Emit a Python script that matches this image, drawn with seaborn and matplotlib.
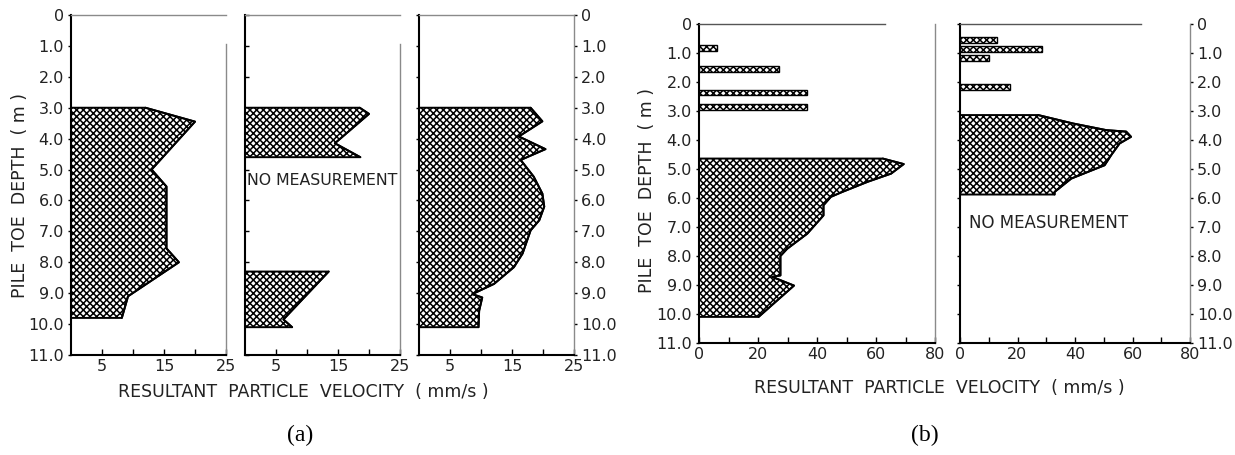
import matplotlib
matplotlib.use("Agg")
import matplotlib.pyplot as plt
import seaborn as sns
import numpy as np

# ---------------- data ----------------
depth_ticks = [0, 1, 2, 3, 4, 5, 6, 7, 8, 9, 10, 11]
depth_labels = ["0", "1.0", "2.0", "3.0", "4.0", "5.0", "6.0", "7.0", "8.0", "9.0", "10.0", "11.0"]

# panel (a) - three profiles, velocity (mm/s) vs pile toe depth (m)
a1_depth = [3.0, 3.45, 5.0, 5.55, 7.55, 8.0, 9.1, 9.8]
a1_vel = [12.0, 20.0, 13.0, 15.4, 15.4, 17.4, 9.2, 8.2]

a2_upper_depth = [3.0, 3.2, 4.15, 4.6]
a2_upper_vel = [18.5, 20.0, 14.5, 18.6]
a2_lower_depth = [8.3, 9.85, 10.1]
a2_lower_vel = [13.5, 6.2, 7.6]

a3_depth = [3.0, 3.44, 3.93, 4.34, 4.69, 5.23, 5.78, 6.2, 6.64, 6.97, 7.72, 8.16, 8.7, 9.03, 9.14, 9.57, 10.1]
a3_vel = [18.0, 19.9, 16.1, 20.4, 16.4, 18.5, 19.9, 20.2, 19.4, 18.0, 16.7, 15.3, 12.1, 8.6, 10.2, 9.7, 9.6]

# panel (b)
b1_bar_depth = [0.82, 1.56, 2.36, 2.85]
b1_bar_vel = [6.2, 27.1, 36.5, 36.5]
b1_depth = [4.64, 4.83, 5.16, 5.44, 5.79, 5.96, 6.25, 6.6, 7.23, 7.75, 8.0, 8.67, 8.72, 9.02, 10.1]
b1_vel = [62.3, 69.4, 65.1, 57.2, 48.6, 44.7, 42.2, 42.2, 36.7, 29.9, 27.6, 27.6, 24.8, 32.2, 20.2]

b2_bar_depth = [0.55, 0.85, 1.16, 2.16]
b2_bar_vel = [12.9, 28.6, 10.2, 17.3]
b2_depth = [3.14, 3.43, 3.66, 3.71, 3.89, 4.12, 4.52, 4.87, 5.33, 5.79, 5.88]
b2_vel = [27.2, 39.3, 50.9, 57.8, 59.5, 55.5, 52.6, 50.3, 38.7, 32.9, 32.9]

a_xticks = [5, 10, 15, 20, 25]
a_xlabels = ["5", "", "15", "", "25"]
b_xticks = [0, 10, 20, 30, 40, 50, 60, 70, 80]
b_xlabels = ["0", "", "20", "", "40", "", "60", "", "80"]

YLABEL = "PILE  TOE  DEPTH  ( m )"
XLABEL = "RESULTANT  PARTICLE  VELOCITY  ( mm/s )"
NOMEAS = "NO MEASUREMENT"

# ---------------- style ----------------
sns.set_theme(style="white")
plt.rcParams["font.family"] = ["DejaVu Sans"]
plt.rcParams["hatch.linewidth"] = 1.1
plt.rcParams["hatch.color"] = "black"
TXT = "#222222"
FS = 11.5
LFS = 12.5
HATCH = "xxxxx"

W, H = 1235, 455
fig = plt.figure(figsize=(W / 100, H / 100), dpi=100)


def make_ax(x0, x1, y0, y1):
    return fig.add_axes([x0 / W, 1 - y1 / H, (x1 - x0) / W, (y1 - y0) / H])


def profile(ax, depth, vel):
    ax.fill_betweenx(depth, 0, vel, facecolor="white", edgecolor="black",
                     hatch=HATCH, linewidth=1.4, zorder=2)
    sns.lineplot(x=vel, y=depth, sort=False, estimator=None, orient="y",
                 color="black", linewidth=1.4, ax=ax, zorder=3)


def bars(ax, depth, vel):
    ax.barh(depth, vel, height=0.2, left=0, facecolor="white",
            edgecolor="black", hatch=HATCH, linewidth=1.0, zorder=2)


def style_ax(ax, xmax, xticks, xlabels, ylab_side):
    ax.set_xlim(0, xmax)
    ax.set_ylim(11, 0)
    ax.set_xticks(xticks)
    ax.set_xticklabels(xlabels, fontsize=FS, color=TXT)
    ax.set_yticks(depth_ticks)
    if ylab_side == "left":
        ax.set_yticklabels(depth_labels, fontsize=FS, color=TXT)
        ax.tick_params(axis="y", left=True, right=False, labelleft=True,
                       labelright=False, direction="out", length=2, pad=3)
    elif ylab_side == "right":
        ax.yaxis.tick_right()
        ax.set_yticklabels(depth_labels, fontsize=FS, color=TXT)
        ax.tick_params(axis="y", left=True, right=True, labelleft=False,
                       labelright=True, direction="out", length=2, pad=3)
    else:
        ax.set_yticklabels([])
        ax.tick_params(axis="y", left=True, right=False, direction="in",
                       length=3)
    ax.tick_params(axis="x", bottom=True, direction="in", length=4, width=1,
                   pad=3, color="black")
    ax.tick_params(axis="y", width=1, color="black")
    ax.set_xlabel("")
    ax.set_ylabel("")
    for s in ("left", "bottom"):
        ax.spines[s].set_color("black")
        ax.spines[s].set_linewidth(1.5)
    for s in ("top", "right"):
        ax.spines[s].set_color("#8a8a8a")
        ax.spines[s].set_linewidth(1.0)
    ax.grid(False)
    ax.set_facecolor("white")


# ---------------- panel (a) ----------------
ya0, ya1 = 15, 355
ax_a1 = make_ax(71, 226, ya0, ya1)
ax_a2 = make_ax(245, 400, ya0, ya1)
ax_a3 = make_ax(419, 574, ya0, ya1)

profile(ax_a1, a1_depth, a1_vel)
profile(ax_a2, a2_upper_depth, a2_upper_vel)
profile(ax_a2, a2_lower_depth, a2_lower_vel)
profile(ax_a3, a3_depth, a3_vel)

style_ax(ax_a1, 25, a_xticks, a_xlabels, "left")
style_ax(ax_a2, 25, a_xticks, a_xlabels, None)
style_ax(ax_a3, 25, a_xticks, a_xlabels, "right")
ax_a1.spines["right"].set_bounds(11, 0.95)
ax_a2.spines["right"].set_bounds(11, 0.95)
ax_a2.text(0.3, 5.35, NOMEAS, fontsize=11.3, color=TXT, va="center", ha="left")

fig.text(20 / W, 1 - 195 / H, YLABEL, rotation=90, ha="center", va="center",
         fontsize=LFS, color=TXT)
fig.text(303 / W, 1 - 392 / H, XLABEL, ha="center", va="center",
         fontsize=LFS, color=TXT)
fig.text(300 / W, 1 - 435 / H, "(a)", ha="center", va="center",
         fontsize=17, family="Liberation Serif", color="black")

# ---------------- panel (b) ----------------
yb0, yb1 = 24, 343
ax_b1 = make_ax(699, 935, yb0, yb1)
ax_b2 = make_ax(960, 1190, yb0, yb1)

bars(ax_b1, b1_bar_depth, b1_bar_vel)
profile(ax_b1, b1_depth, b1_vel)
bars(ax_b2, b2_bar_depth, b2_bar_vel)
profile(ax_b2, b2_depth, b2_vel)

style_ax(ax_b1, 80, b_xticks, b_xlabels, "left")
style_ax(ax_b2, 80, b_xticks, b_xlabels, "right")
for ax in (ax_b1, ax_b2):
    ax.spines["top"].set_bounds(0, 63)
    ax.spines["top"].set_color("#555555")
ax_b2.text(3, 6.85, NOMEAS, fontsize=12, color=TXT, va="center", ha="left")

fig.text(647 / W, 1 - 190 / H, YLABEL, rotation=90, ha="center", va="center",
         fontsize=LFS, color=TXT)
fig.text(939 / W, 1 - 388 / H, XLABEL, ha="center", va="center",
         fontsize=LFS, color=TXT)
fig.text(925 / W, 1 - 435 / H, "(b)", ha="center", va="center",
         fontsize=17, family="Liberation Serif", color="black")

fig.savefig("out.png", dpi=100, facecolor="white")
